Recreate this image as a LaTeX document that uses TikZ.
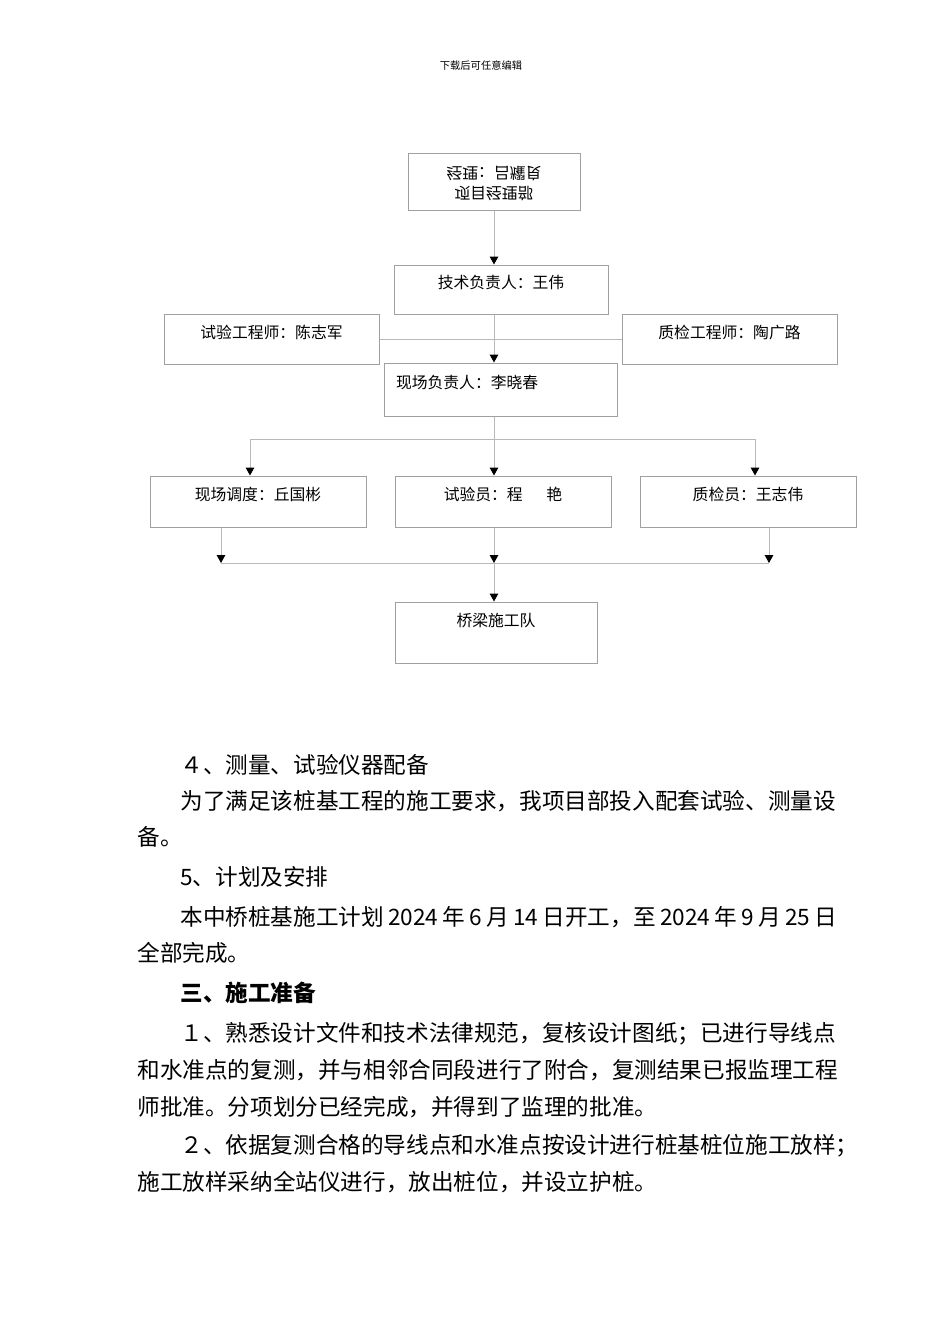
\documentclass[tikz,border=0pt]{standalone}
\usepackage{fontspec}
\setmainfont{Noto Sans CJK SC}
\usepackage{graphicx}
\usetikzlibrary{arrows.meta}

\definecolor{boxgray}{HTML}{A0A0A0}
\definecolor{linegray}{HTML}{B8B8B8}

\begin{document}
\begin{tikzpicture}[x=0.5pt,y=-0.5pt,>={Triangle[width=4.3pt,length=4pt,color=black]},
  line/.style={draw=linegray,line width=0.5pt},
  org box/.style={draw=boxgray,line width=0.5pt,inner sep=0pt,align=center,font=\fontsize{7.9pt}{9.5pt}\selectfont},
  side box/.style={org box,minimum width=107.5pt,text height=12pt,text depth=13pt},
  row box/.style={org box,minimum width=108pt,text height=12pt,text depth=13.5pt},
  body/.style={anchor=west,inner sep=0pt,font=\fontsize{11.3pt}{13pt}\selectfont,text height=8.6pt,text depth=0pt}]

  \useasboundingbox (0,0) rectangle (950,1344);

  \node[font=\fontsize{5.15pt}{6pt}\selectfont] (head) at (481,66) {下载后可任意编辑};

  % organisation chart
  \node[org box,minimum width=86pt,minimum height=28.5pt,font=\fontsize{7.9pt}{10pt}\selectfont] (pm) at (494,181.5)
    {\scalebox{1}[-1]{\begin{tabular}{@{}c@{}}项目经理部\\经理：吕耀良\end{tabular}}};
  \node[org box,minimum width=107pt,text height=11.5pt,text depth=13pt] (tech) at (501,289.5) {技术负责人：王伟};
  \node[side box] (testeng) at (271.5,339) {试验工程师：陈志军};
  \node[side box] (qceng) at (729.5,339) {质检工程师：陶广路};
  \node[org box,text width=104.5pt,align=left,inner xsep=6pt,text height=12.5pt,text depth=14pt] (site) at (500.5,389.5) {现场负责人：李晓春};
  \node[row box] (disp) at (258,501.5) {现场调度：丘国彬};
  \node[row box] (tester) at (503,501.5) {试验员：程\hspace{1.5em}艳};
  \node[row box] (qc) at (748,501.5) {质检员：王志伟};
  \node[org box,minimum width=101pt,text height=12pt,text depth=18.5pt] (team) at (496,632.5) {桥梁施工队};

  \coordinate (split) at (494,439);
  \coordinate (merge) at (494,563);
  \coordinate (dispin) at ([xshift=-4pt]disp.north);
  \coordinate (qcin) at ([xshift=3.5pt]qc.north);
  \coordinate (dispout) at ([xshift=-18.5pt]disp.south);
  \coordinate (qcout) at ([xshift=10.5pt]qc.south);

  \draw[line,->] (pm.south) -- (pm.south |- tech.north);
  \draw[line,->] (pm.south |- tech.south) -- (pm.south |- site.north);
  \draw[line] (testeng.east) -- (qceng.west);
  \draw[line] (pm.south |- site.south) -- (split);
  \draw[line,->] (split) -| (dispin);
  \draw[line,->] (split) -| (qcin);
  \draw[line,->] (split) -- (split |- tester.north);
  \draw[line,->] (dispout) -- (dispout |- merge);
  \draw[line,->] (qcout) -- (qcout |- merge);
  \draw[line,->] (split |- tester.south) -- (merge);
  \draw[line] (dispout |- merge) -- (qcout |- merge);
  \draw[line,->] (merge) -- (merge |- team.north);

  % text below the chart
  \node[body] (l1) at (180,765) {４、测量、试验仪器配备};
  \node[body] (l2) at (180,801) {为了满足该桩基工程的施工要求，我项目部投入配套试验、测量设};
  \node[body] (l3) at (137,837) {备。};
  \node[body] (l4) at (180,877) {5、计划及安排};
  \node[body] (l5) at (180,917) {\makebox[328.5pt][s]{本中桥桩基施工计划 2024 年 6 月 14 日开工，至 2024 年 9 月 25 日}};
  \node[body] (l6) at (137,953) {全部完成。};
  \node[body,font=\fontsize{11.3pt}{13pt}\selectfont\bfseries] (l7) at (180,993) {三、施工准备};
  \node[body] (l8) at (180,1033) {１、熟悉设计文件和技术法律规范，复核设计图纸；已进行导线点};
  \node[body] (l9) at (137,1070) {和水准点的复测，并与相邻合同段进行了附合，复测结果已报监理工程};
  \node[body] (l10) at (137,1107) {师批准。分项划分已经完成，并得到了监理的批准。};
  \node[body] (l11) at (180,1145) {２、依据复测合格的导线点和水准点按设计进行桩基桩位施工放样；};
  \node[body] (l12) at (137,1182) {施工放样采纳全站仪进行，放出桩位，并设立护桩。};

\end{tikzpicture}
\end{document}
